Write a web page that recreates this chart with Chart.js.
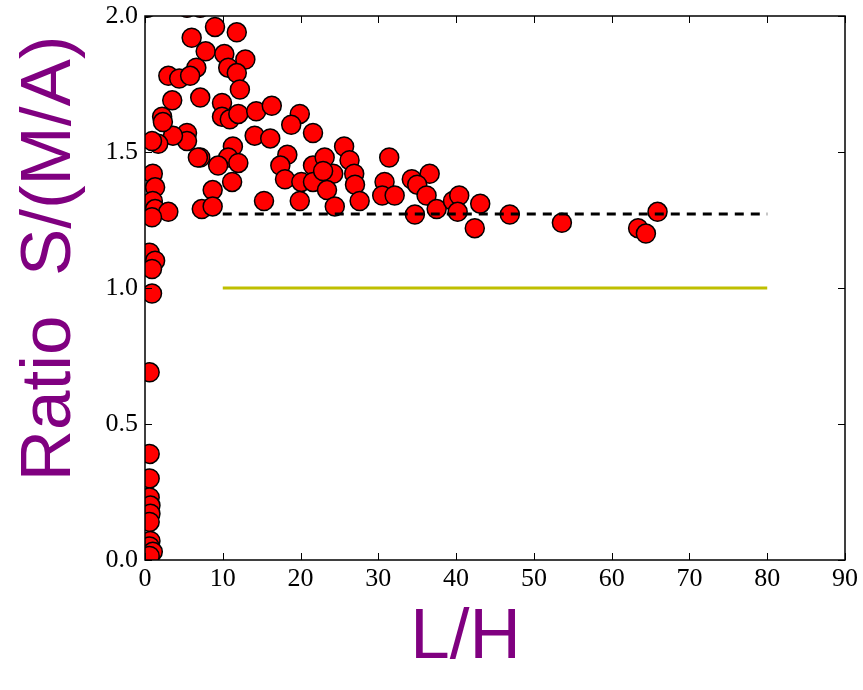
<!DOCTYPE html>
<html>
<head>
<meta charset="utf-8">
<script src="https://cdn.jsdelivr.net/npm/chart.js@4/dist/chart.umd.min.js"></script>
<style>
  html, body { margin: 0; padding: 0; background: #fff; }
  #wrap { width: 863px; height: 690px; }
</style>
</head>
<body>
<div id="wrap"><canvas id="ratioChart"></canvas></div>
<script>
/* ===============================
   DATA
   =============================== */
const lhValues = [
  0.3, 5.4, 7.1, 9.0, 11.8, 6.0, 7.8, 10.2, 12.9, 6.6,
  10.7, 11.8, 3.0, 4.4, 5.8, 12.2, 3.5, 7.1, 9.9, 2.2,
  9.9, 10.9, 12.0, 14.3, 16.3, 19.9, 21.6, 18.8, 5.4, 5.4,
  3.6, 1.7, 0.9, 14.1, 16.1, 18.3, 7.1, 11.3, 10.7, 12.0,
  9.4, 1.0, 1.3, 17.4, 18.0, 20.1, 21.6, 21.6, 11.2, 8.7,
  1.0, 1.3, 3.0, 0.9, 7.3, 8.7, 15.3, 19.9, 2.3, 6.8,
  25.6, 26.3, 23.1, 24.2, 22.9, 23.4, 26.9, 27.0, 27.6, 24.4,
  31.4, 30.8, 34.3, 36.6, 30.5, 32.1, 35.0, 36.2, 34.7, 37.5,
  39.6, 40.4, 40.2, 43.1, 42.4, 46.9, 53.6, 63.4, 64.4, 65.9,
  0.6, 1.3, 0.9, 0.9, 0.6, 0.6, 0.6, 0.6, 0.7, 0.7,
  0.6, 0.7, 0.6, 1.0, 0.6
];
const ratioValues = [
  2.03, 2.03, 2.03, 1.96, 1.94, 1.92, 1.87, 1.86, 1.84, 1.81,
  1.81, 1.79, 1.78, 1.77, 1.78, 1.73, 1.69, 1.70, 1.68, 1.63,
  1.63, 1.62, 1.64, 1.65, 1.67, 1.64, 1.57, 1.60, 1.57, 1.54,
  1.56, 1.53, 1.54, 1.56, 1.55, 1.49, 1.48, 1.52, 1.48, 1.46,
  1.45, 1.42, 1.37, 1.45, 1.40, 1.39, 1.45, 1.39, 1.39, 1.36,
  1.32, 1.29, 1.28, 1.26, 1.29, 1.30, 1.32, 1.32, 1.61, 1.48,
  1.52, 1.47, 1.48, 1.42, 1.43, 1.36, 1.42, 1.38, 1.32, 1.30,
  1.48, 1.39, 1.40, 1.42, 1.34, 1.34, 1.38, 1.34, 1.27, 1.29,
  1.32, 1.34, 1.28, 1.31, 1.22, 1.27, 1.24, 1.22, 1.20, 1.28,
  1.13, 1.10, 1.07, 0.98, 0.69, 0.39, 0.30, 0.23, 0.20, 0.17,
  0.14, 0.07, 0.05, 0.03, 0.015
];

// mean level (dashed) and unity level (yellow)
const meanLH = [10, 80];
const meanRatio = [1.272, 1.272];
const unityLH = [10, 80];
const unityRatio = [1.0, 1.0];

const xTickValues = [0, 10, 20, 30, 40, 50, 60, 70, 80, 90];
const yTickValues = [0.0, 0.5, 1.0, 1.5, 2.0];

const toPoints = (xs, ys) => xs.map((x, i) => ({ x, y: ys[i] }));

/* ===============================
   FRAME + INWARD TICKS (matplotlib look)
   =============================== */
const frameTicks = {
  id: "frameTicks",
  afterDatasetsDraw(chart) {
    const { ctx, chartArea: a, scales: { x, y } } = chart;
    const len = 7;
    ctx.save();
    ctx.strokeStyle = "#000";
    ctx.lineWidth = 1;
    ctx.beginPath();
    x.ticks.forEach(t => {
      const px = Math.round(x.getPixelForValue(t.value)) + 0.5;
      ctx.moveTo(px, a.bottom); ctx.lineTo(px, a.bottom - len);
      ctx.moveTo(px, a.top); ctx.lineTo(px, a.top + len);
    });
    y.ticks.forEach(t => {
      const py = Math.round(y.getPixelForValue(t.value)) + 0.5;
      ctx.moveTo(a.left, py); ctx.lineTo(a.left + len, py);
      ctx.moveTo(a.right, py); ctx.lineTo(a.right - len, py);
    });
    ctx.stroke();
    ctx.lineWidth = 1.5;
    ctx.strokeRect(a.left, a.top, a.width, a.height);
    ctx.restore();
  }
};

const tickFont = { family: "'Liberation Serif', 'DejaVu Serif', serif", size: 26 };
const titleFont = { family: "'Liberation Sans', Arial, sans-serif", size: 71 };

new Chart(document.getElementById("ratioChart").getContext("2d"), {
  type: "scatter",
  data: {
    datasets: [
      {
        type: "line",
        label: "mean",
        data: toPoints(meanLH, meanRatio),
        borderColor: "#000",
        borderWidth: 3,
        borderDash: [9, 7],
        pointRadius: 0,
        fill: false,
        order: 0
      },
      {
        type: "line",
        label: "unity",
        data: toPoints(unityLH, unityRatio),
        borderColor: "#bfbf00",
        borderWidth: 3,
        pointRadius: 0,
        fill: false,
        order: 0
      },
      {
        label: "ratio",
        data: toPoints(lhValues, ratioValues),
        backgroundColor: "#ff0000",
        borderColor: "#000",
        borderWidth: 1.5,
        pointRadius: 9.5,
        pointHoverRadius: 9.5,
        clip: 0,
        order: 1
      }
    ]
  },
  options: {
    responsive: true,
    maintainAspectRatio: false,
    animation: false,
    layout: { padding: { left: 0, top: 16, right: 18, bottom: 0 } },
    plugins: {
      legend: { display: false },
      tooltip: { enabled: false }
    },
    scales: {
      x: {
        type: "linear",
        min: 0,
        max: 90,
        afterBuildTicks: s => { s.ticks = xTickValues.map(v => ({ value: v })); },
        afterFit: s => { s.height = 130; s.paddingLeft = 0; s.paddingRight = 0; },
        grid: { drawOnChartArea: false, drawTicks: false },
        border: { display: false },
        ticks: { color: "#000", font: tickFont, padding: 4, maxRotation: 0, callback: v => String(v) },
        title: {
          display: true,
          text: "L/H   ",
          color: "#800080",
          font: titleFont,
          padding: { top: 0, bottom: 9 }
        }
      },
      y: {
        type: "linear",
        min: 0,
        max: 2,
        afterBuildTicks: s => { s.ticks = yTickValues.map(v => ({ value: v })); },
        afterFit: s => { s.width = 145; s.paddingTop = 0; s.paddingBottom = 0; },
        grid: { drawOnChartArea: false, drawTicks: false },
        border: { display: false },
        ticks: { color: "#000", font: tickFont, padding: 7, callback: v => v.toFixed(1) },
        title: {
          display: true,
          text: "   Ratio  S/(M/A)",
          color: "#800080",
          font: titleFont,
          padding: { top: 8, bottom: 0 }
        }
      }
    }
  },
  plugins: [frameTicks]
});
</script>
</body>
</html>
